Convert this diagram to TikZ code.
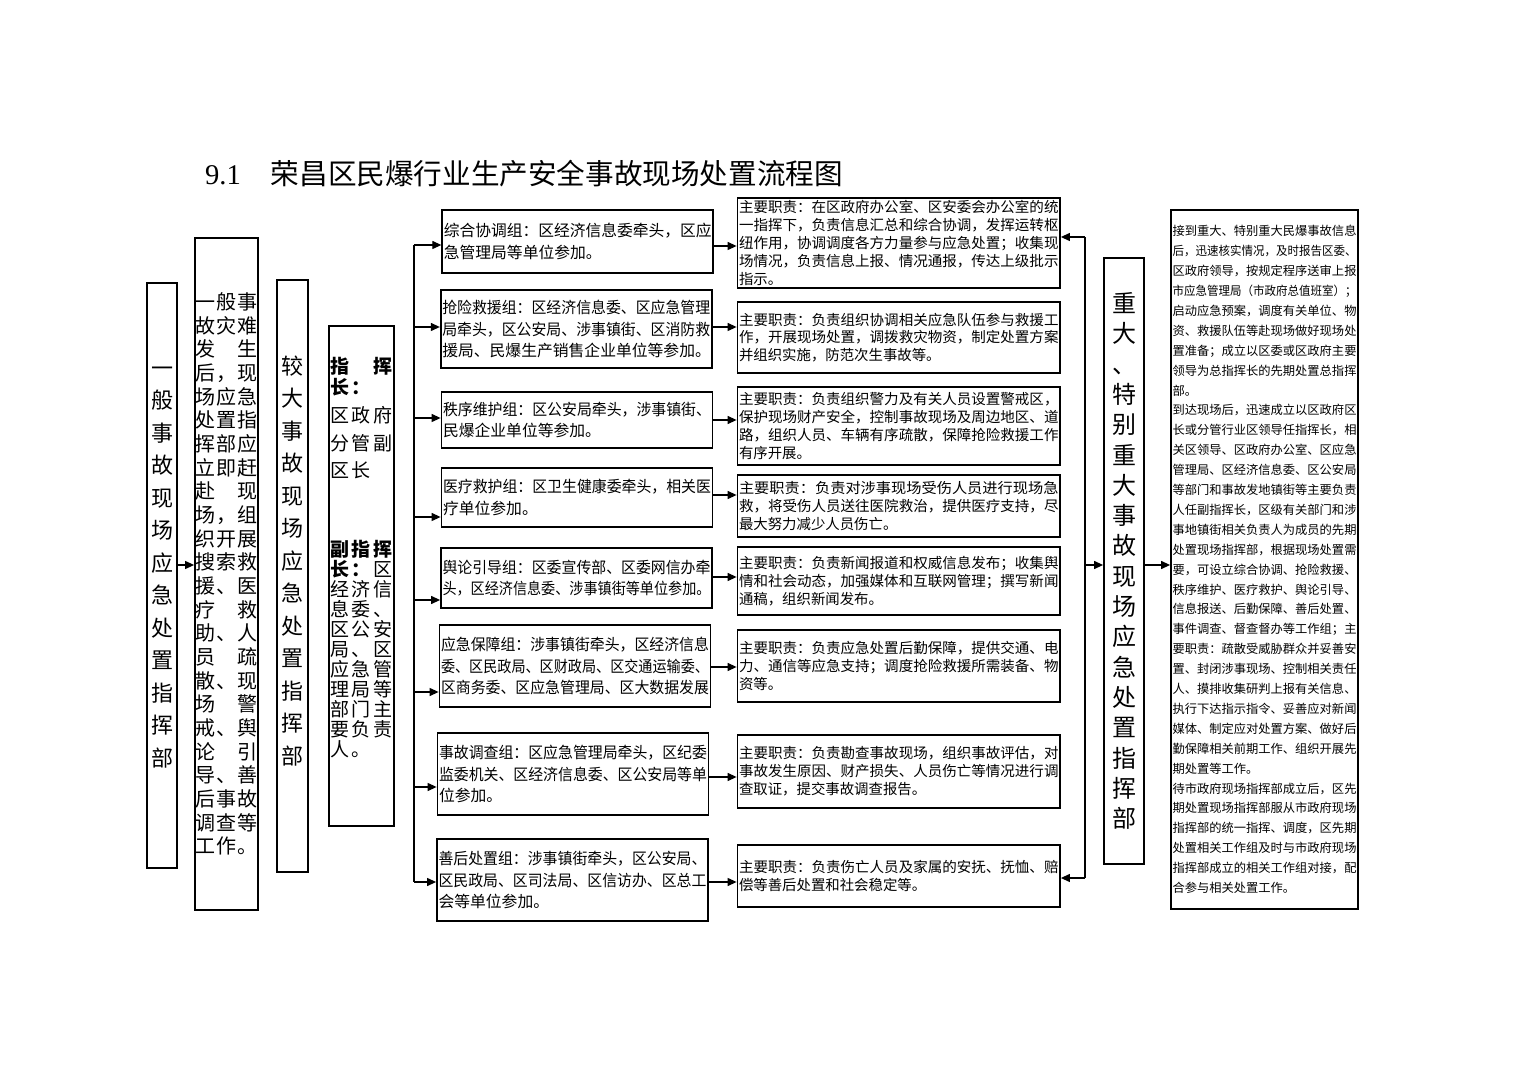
\documentclass[tikz,border=0pt]{standalone}
\usepackage{fontspec}
\setmainfont{Noto Sans CJK SC}
\newfontfamily\titlelatin{Liberation Serif}
\usepackage{graphicx}
\usetikzlibrary{arrows.meta}
% one justified line of a box
\newcommand\fitline[1]{\resizebox{\linewidth}{\height}{#1}}
% three-slot rows for the narrow text columns
\newcommand\rowA[3]{\makebox[10.5pt]{#1}\makebox[10.5pt]{#2}\makebox[10.5pt]{#3}}
\newcommand\rowB[3]{\makebox[10.75pt]{#1}\makebox[10.75pt]{#2}\makebox[10.75pt]{#3}}
\tikzset{
  flowarrow/.style={-{Triangle[length=4.5pt,width=4pt]}, line width=0.6pt},
  flowline/.style={line width=0.6pt},
  headbox/.style={draw, line width=0.9pt, inner sep=0pt, align=center},
  groupbox/.style={draw, line width=0.9pt, text width=134pt, inner xsep=0.75pt, inner ysep=0pt, align=left, font=\fontsize{7.9}{10.8}\selectfont},
  dutybox/.style={draw, line width=0.9pt, text width=159.75pt, inner xsep=0.75pt, inner ysep=0pt, align=left, font=\fontsize{7.2}{8.9}\selectfont},
  notebox/.style={draw, line width=0.9pt, text width=92pt, inner xsep=0.75pt, inner ysep=0pt, align=left, font=\fontsize{6.13}{9.95}\selectfont}
}
\begin{document}
\begin{tikzpicture}[x=0.5pt, y=-0.5pt]
  \path[use as bounding box] (0,0) rectangle (1520,1074);
  \node[anchor=west, font=\fontsize{14.3}{16}\selectfont] (title) at (198,174) {{\titlelatin 9.1}\hspace{15pt}荣昌区民爆行业生产安全事故现场处置流程图};

  % left columns
  \node[headbox, minimum width=15pt, minimum height=292.5pt, font=\fontsize{11}{16.25}\selectfont] (ybHead) at (162,575.5)
    {一\\般\\事\\故\\现\\场\\应\\急\\处\\置\\指\\挥\\部\\[-7.5pt]\mbox{}};
  \node[headbox, minimum width=31.5pt, minimum height=336pt, font=\fontsize{10}{11.83}\selectfont] (ybText) at (226.5,574)
    {\rowA{一}{般}{事}\\\rowA{故}{灾}{难}\\\rowA{发}{}{生}\\\rowA{后}{，}{现}\\\rowA{场}{应}{急}\\\rowA{处}{置}{指}\\
     \rowA{挥}{部}{应}\\\rowA{立}{即}{赶}\\\rowA{赴}{}{现}\\\rowA{场}{，}{组}\\\rowA{织}{开}{展}\\\rowA{搜}{索}{救}\\
     \rowA{援}{、}{医}\\\rowA{疗}{}{救}\\\rowA{助}{、}{人}\\\rowA{员}{}{疏}\\\rowA{散}{、}{现}\\\rowA{场}{}{警}\\
     \rowA{戒}{、}{舆}\\\rowA{论}{}{引}\\\rowA{导}{、}{善}\\\rowA{后}{事}{故}\\\rowA{调}{查}{等}\\\rowA{工}{作}{。}};
  \node[headbox, minimum width=15.5pt, minimum height=296pt, font=\fontsize{11}{16.25}\selectfont] (jdHead) at (292.5,576)
    {较\\大\\事\\故\\现\\场\\应\\急\\处\\置\\指\\挥\\部\\[0pt]\mbox{}};
  \node[headbox, minimum width=32.5pt, minimum height=250pt, font=\fontsize{9.5}{10}\selectfont] (jdLead) at (361.5,576)
    {\rowB{\textbf{指}}{}{\textbf{挥}}\\[0.5pt]\rowB{\textbf{长}}{\textbf{：}}{}\\[4pt]
     \rowB{区}{政}{府}\\[4pt]\rowB{分}{管}{副}\\[3.5pt]\rowB{区}{长}{}\\[29.5pt]
     \rowB{\textbf{副}}{\textbf{指}}{\textbf{挥}}\\\rowB{\textbf{长}}{\textbf{：}}{区}\\\rowB{经}{济}{信}\\
     \rowB{息}{委}{、}\\\rowB{区}{公}{安}\\\rowB{局}{、}{区}\\\rowB{应}{急}{管}\\\rowB{理}{局}{等}\\
     \rowB{部}{门}{主}\\\rowB{要}{负}{责}\\\rowB{人}{。}{}\\[9.5pt]\mbox{}};

  % working groups
  \node[groupbox, minimum height=31.5pt] (g1) at (577.75,241.5)
    {\fitline{综合协调组：区经济信息委牵头，区应}\\急管理局等单位参加。};
  \node[groupbox, minimum height=39pt] (g2) at (576.25,329)
    {\fitline{抢险救援组：区经济信息委、区应急管理}\\\fitline{局牵头，区公安局、涉事镇街、区消防救}\\援局、民爆生产销售企业单位等参加。};
  \node[groupbox, minimum height=28pt] (g3) at (577,420)
    {\fitline{秩序维护组：区公安局牵头，涉事镇街、}\\民爆企业单位等参加。};
  \node[groupbox, minimum height=29.5pt] (g4) at (577,497.5)
    {\fitline{医疗救护组：区卫生健康委牵头，相关医}\\疗单位参加。};
  \node[groupbox, minimum height=30pt] (g5) at (576.5,578)
    {\fitline{舆论引导组：区委宣传部、区委网信办牵}\\\fitline{头，区经济信息委、涉事镇街等单位参加。}};
  \node[groupbox, minimum height=41pt] (g6) at (575,666)
    {\fitline{应急保障组：涉事镇街牵头，区经济信息}\\\fitline{委、区民政局、区财政局、区交通运输委、}\\\fitline{区商务委、区应急管理局、区大数据发展}};
  \node[groupbox, minimum height=41pt] (g7) at (573,774)
    {\fitline{事故调查组：区应急管理局牵头，区纪委}\\\fitline{监委机关、区经济信息委、区公安局等单}\\位参加。};
  \node[groupbox, minimum height=41pt] (g8) at (572.5,880)
    {\fitline{善后处置组：涉事镇街牵头，区公安局、}\\\fitline{区民政局、区司法局、区信访办、区总工}\\会等单位参加。};

  % duties
  \node[dutybox, minimum height=45pt] (d1) at (898.75,243)
    {\fitline{主要职责：在区政府办公室、区安委会办公室的统}\\\fitline{一指挥下，负责信息汇总和综合协调，发挥运转枢}\\
     \fitline{纽作用，协调调度各方力量参与应急处置；收集现}\\\fitline{场情况，负责信息上报、情况通报，传达上级批示}\\指示。};
  \node[dutybox, minimum height=35.5pt] (d2) at (898.75,337.5)
    {\fitline{主要职责：负责组织协调相关应急队伍参与救援工}\\\fitline{作，开展现场处置，调拨救灾物资，制定处置方案}\\并组织实施，防范次生事故等。};
  \node[dutybox, minimum height=39pt] (d3) at (898.75,426)
    {\fitline{主要职责：负责组织警力及有关人员设置警戒区，}\\\fitline{保护现场财产安全，控制事故现场及周边地区、道}\\
     \fitline{路，组织人员、车辆有序疏散，保障抢险救援工作}\\有序开展。};
  \node[dutybox, minimum height=31pt] (d4) at (898.75,506)
    {\fitline{主要职责：负责对涉事现场受伤人员进行现场急}\\\fitline{救，将受伤人员送往医院救治，提供医疗支持，尽}\\最大努力减少人员伤亡。};
  \node[dutybox, minimum height=34pt] (d5) at (898.75,581)
    {\fitline{主要职责：负责新闻报道和权威信息发布；收集舆}\\\fitline{情和社会动态，加强媒体和互联网管理；撰写新闻}\\通稿，组织新闻发布。};
  \node[dutybox, minimum height=36pt] (d6) at (898.75,666)
    {\fitline{主要职责：负责应急处置后勤保障，提供交通、电}\\\fitline{力、通信等应急支持；调度抢险救援所需装备、物}\\资等。};
  \node[dutybox, minimum height=36.5pt] (d7) at (898.75,771.5)
    {\fitline{主要职责：负责勘查事故现场，组织事故评估，对}\\\fitline{事故发生原因、财产损失、人员伤亡等情况进行调}\\查取证，提交事故调查报告。};
  \node[dutybox, minimum height=31pt] (d8) at (898.75,876)
    {\fitline{主要职责：负责伤亡人员及家属的安抚、抚恤、赔}\\偿等善后处置和社会稳定等。};

  % major accident side
  \node[headbox, minimum width=20pt, minimum height=303pt, font=\fontsize{12}{15.15}\selectfont] (zdHead) at (1124,561)
    {重\\大\\、\\特\\别\\重\\大\\事\\故\\现\\场\\应\\急\\处\\置\\指\\挥\\部};
  \node[notebox, minimum height=349.5pt] (zdText) at (1264.5,559.5)
    {\fitline{接到重大、特别重大民爆事故信息}\\\fitline{后，迅速核实情况，及时报告区委、}\\\fitline{区政府领导，按规定程序送审上报}\\
     \fitline{市应急管理局（市政府总值班室）；}\\\fitline{启动应急预案，调度有关单位、物}\\\fitline{资、救援队伍等赴现场做好现场处}\\
     \fitline{置准备；成立以区委或区政府主要}\\\fitline{领导为总指挥长的先期处置总指挥}\\部。\\
     \fitline{到达现场后，迅速成立以区政府区}\\\fitline{长或分管行业区领导任指挥长，相}\\\fitline{关区领导、区政府办公室、区应急}\\
     \fitline{管理局、区经济信息委、区公安局}\\\fitline{等部门和事故发地镇街等主要负责}\\\fitline{人任副指挥长，区级有关部门和涉}\\
     \fitline{事地镇街相关负责人为成员的先期}\\\fitline{处置现场指挥部，根据现场处置需}\\\fitline{要，可设立综合协调、抢险救援、}\\
     \fitline{秩序维护、医疗救护、舆论引导、}\\\fitline{信息报送、后勤保障、善后处置、}\\\fitline{事件调查、督查督办等工作组；主}\\
     \fitline{要职责：疏散受威胁群众并妥善安}\\\fitline{置、封闭涉事现场、控制相关责任}\\\fitline{人、摸排收集研判上报有关信息、}\\
     \fitline{执行下达指示指令、妥善应对新闻}\\\fitline{媒体、制定应对处置方案、做好后}\\\fitline{勤保障相关前期工作、组织开展先}\\
     期处置等工作。\\
     \fitline{待市政府现场指挥部成立后，区先}\\\fitline{期处置现场指挥部服从市政府现场}\\\fitline{指挥部的统一指挥、调度，区先期}\\
     \fitline{处置相关工作组及时与市政府现场}\\\fitline{指挥部成立的相关工作组对接，配}\\合参与相关处置工作。};

  % connectors
  \coordinate (lm) at (170,565);
  \draw[flowarrow] (lm -| ybHead.east) -- (lm -| ybText.west);
  \foreach \i/\y in {1/245,2/327,3/418,4/517,5/600,6/692,7/787,8/882}{
    \coordinate (t\i) at (414,\y);
    \draw[flowarrow] (t\i) -- (t\i -| g\i.west);
  }
  \draw[flowline] (t1) -- (t8);
  \foreach \i/\y in {1/246,2/327,3/420,4/495,5/577,6/667,7/777,8/882}{
    \coordinate (h\i) at (725,\y);
    \draw[flowarrow] (h\i -| g\i.east) -- (h\i -| d\i.west);
  }
  \coordinate (r1) at (1085,237);
  \coordinate (r8) at (1085,878);
  \coordinate (rm) at (1085,565);
  \draw[flowline] (r1) -- (r8);
  \draw[flowarrow] (r1) -- (r1 -| d1.east);
  \draw[flowarrow] (r8) -- (r8 -| d8.east);
  \draw[flowarrow] (rm) -- (rm -| zdHead.west);
  \draw[flowarrow] (rm -| zdHead.east) -- (rm -| zdText.west);
\end{tikzpicture}
\end{document}
